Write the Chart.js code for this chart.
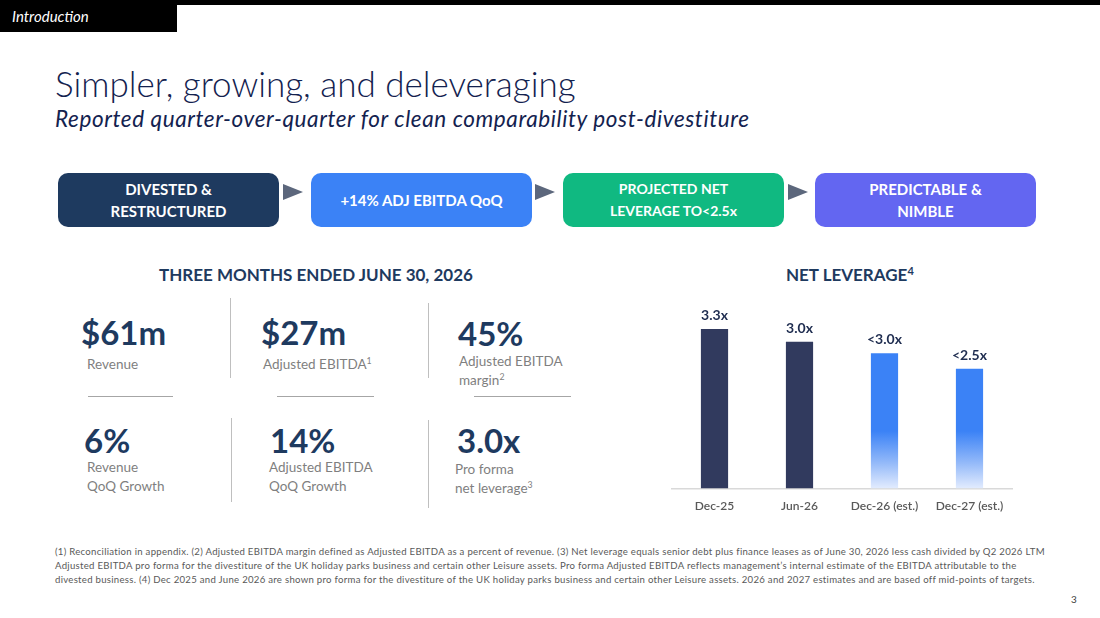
<!DOCTYPE html>
<html>
<head>
<meta charset="utf-8">
<script src="https://cdn.jsdelivr.net/npm/chart.js@4.4.1/dist/chart.umd.min.js"></script>
<style>
  html,body{margin:0;padding:0;background:#fff;}
  body{width:1100px;height:618px;position:relative;overflow:hidden;font-family:Lato,"Open Sans",sans-serif;}
  .abs{position:absolute;white-space:nowrap;}
  .topline{left:0;top:0;width:1100px;height:5px;background:#000;}
  .tab{left:0;top:0;width:177px;height:32px;background:#000;color:#fff;font-style:italic;font-size:15px;line-height:32px;padding-left:12px;box-sizing:border-box;}
  .title{left:55px;top:62px;font-size:35px;font-weight:300;color:#13224f;}
  .subtitle{left:55px;top:105px;font-size:22.5px;letter-spacing:0.6px;font-style:italic;color:#13224f;}
  .box{top:173px;height:54px;width:221px;border-radius:10px;color:#fff;font-weight:700;font-size:15px;display:flex;align-items:center;justify-content:center;text-align:center;line-height:22px;white-space:normal;}
  .arrow{top:184px;width:0;height:0;border-top:8px solid transparent;border-bottom:8px solid transparent;border-left:20px solid #5c677c;}
  .head{font-size:17px;font-weight:700;color:#1e3a5f;}
  .big{font-size:33px;font-weight:700;color:#1e3a5f;}
  .lbl{font-size:13.5px;color:#7f7f7f;line-height:19px;}
  .vsep{width:1px;background:#bfbfbf;}
  .hsep{height:1px;background:#a6a6a6;}
  .foot{left:55px;top:545px;font-size:9.6px;letter-spacing:0.28px;color:#595959;line-height:14px;}
  sup{font-size:0.65em;vertical-align:0.55em;line-height:0;}
</style>
</head>
<body>
<div class="abs topline"></div>
<div class="abs tab">Introduction</div>
<div class="abs title">Simpler, growing, and deleveraging</div>
<div class="abs subtitle">Reported quarter-over-quarter for clean comparability post-divestiture</div>

<div class="abs box" style="left:58px;background:#1e3a5f;">DIVESTED &amp;<br>RESTRUCTURED</div>
<div class="abs arrow" style="left:283px;"></div>
<div class="abs box" style="left:311px;background:#3b82f6;">+14% ADJ EBITDA QoQ</div>
<div class="abs arrow" style="left:535px;"></div>
<div class="abs box" style="left:563px;background:#10b981;font-size:14px;">PROJECTED NET<br>LEVERAGE TO&lt;2.5x</div>
<div class="abs arrow" style="left:788px;"></div>
<div class="abs box" style="left:815px;background:#6366f1;">PREDICTABLE &amp;<br>NIMBLE</div>

<div class="abs head" style="left:159px;top:264px;">THREE MONTHS ENDED JUNE 30, 2026</div>

<div class="abs big" style="left:81px;top:312px;">$61m</div>
<div class="abs lbl" style="left:87px;top:355px;">Revenue</div>
<div class="abs vsep" style="left:230px;top:298px;height:80px;"></div>
<div class="abs big" style="left:261px;top:312px;">$27m</div>
<div class="abs lbl" style="left:263px;top:355px;">Adjusted EBITDA<sup>1</sup></div>
<div class="abs vsep" style="left:428px;top:303px;height:75px;"></div>
<div class="abs big" style="left:458px;top:313px;">45%</div>
<div class="abs lbl" style="left:459px;top:352px;">Adjusted EBITDA<br>margin<sup>2</sup></div>

<div class="abs hsep" style="left:88px;top:396px;width:85px;"></div>
<div class="abs hsep" style="left:277px;top:396px;width:97px;"></div>
<div class="abs hsep" style="left:474px;top:396px;width:97px;"></div>

<div class="abs big" style="left:84px;top:420px;">6%</div>
<div class="abs lbl" style="left:87px;top:458px;">Revenue<br>QoQ Growth</div>
<div class="abs vsep" style="left:231px;top:418px;height:84px;"></div>
<div class="abs big" style="left:270px;top:420px;">14%</div>
<div class="abs lbl" style="left:269px;top:458px;">Adjusted EBITDA<br>QoQ Growth</div>
<div class="abs vsep" style="left:428px;top:420px;height:88px;"></div>
<div class="abs big" style="left:457px;top:420px;">3.0x</div>
<div class="abs lbl" style="left:455px;top:460px;">Pro forma<br>net leverage<sup>3</sup></div>

<div class="abs head" style="left:786px;top:264px;">NET LEVERAGE<sup>4</sup></div>

<div class="abs" style="left:660px;top:303px;width:370px;height:220px;">
  <canvas id="c"></canvas>
</div>

<div class="abs foot">(1) Reconciliation in appendix. (2) Adjusted EBITDA margin defined as Adjusted EBITDA as a percent of revenue. (3) Net leverage equals senior debt plus finance leases as of June 30, 2026 less cash divided by Q2 2026 LTM<br>Adjusted EBITDA pro forma for the divestiture of the UK holiday parks business and certain other Leisure assets. Pro forma Adjusted EBITDA reflects management’s internal estimate of the EBITDA attributable to the<br>divested business. (4) Dec 2025 and June 2026 are shown pro forma for the divestiture of the UK holiday parks business and certain other Leisure assets. 2026 and 2027 estimates and are based off mid-points of targets.</div>
<div class="abs" style="left:1071px;top:593px;font-size:10px;color:#404040;">3</div>

<script>
const categories = ["Dec-25", "Jun-26", "Dec-26 (est.)", "Dec-27 (est.)"];
const leverage = [3.3, 3.04, 2.8, 2.48];
const valueLabels = ["3.3x", "3.0x", "<3.0x", "<2.5x"];
const isEstimate = [false, false, true, true];

const labelPlugin = {
  id: 'valLabels',
  afterDatasetsDraw(chart) {
    const ctx = chart.ctx;
    const meta = chart.getDatasetMeta(0);
    ctx.save();
    ctx.font = '700 14px Lato, "Open Sans", sans-serif';
    ctx.fillStyle = '#1f2d50';
    ctx.textAlign = 'center';
    ctx.textBaseline = 'alphabetic';
    meta.data.forEach((bar, i) => {
      ctx.fillText(valueLabels[i], bar.x, bar.y - 9);
    });
    ctx.restore();
  }
};

new Chart(document.getElementById('c'), {
  type: 'bar',
  data: {
    labels: categories,
    datasets: [{
      data: leverage,
      backgroundColor: (c) => {
        const i = c.dataIndex;
        if (!isEstimate[i]) return '#313a5e';
        const area = c.chart.chartArea;
        if (!area) return '#3b82f6';
        const g = c.chart.ctx.createLinearGradient(0, area.bottom, 0, area.top);
        g.addColorStop(0, '#e3ecfe');
        g.addColorStop(0.14, '#93b9f9');
        g.addColorStop(0.31, '#3b82f6');
        g.addColorStop(1, '#3b82f6');
        return g;
      },
      borderWidth: 0,
      barPercentage: 0.32,
      categoryPercentage: 1
    }]
  },
  options: {
    responsive: true,
    maintainAspectRatio: false,
    animation: false,
    layout: { padding: { left: 12, right: 18, top: 0, bottom: 0 } },
    plugins: { legend: { display: false }, tooltip: { enabled: false } },
    scales: {
      x: {
        grid: { display: false, drawTicks: false },
        border: { display: true, color: '#d9d9d9', width: 1.5 },
        ticks: { color: '#595959', font: { family: 'Lato', size: 12, weight: 600 }, padding: 10 }
      },
      y: { display: false, min: 0, max: 3.84 }
    }
  },
  plugins: [labelPlugin]
});
</script>
</body>
</html>
